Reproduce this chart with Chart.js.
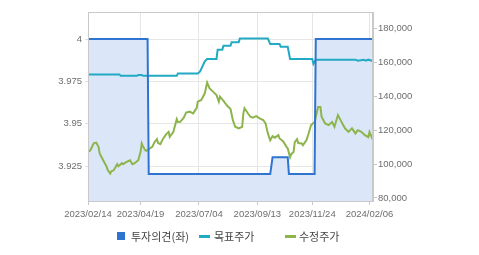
<!DOCTYPE html>
<html>
<head>
<meta charset="utf-8">
<script src="https://cdn.jsdelivr.net/npm/chart.js@4/dist/chart.umd.min.js"></script>
<style>
  html, body { margin: 0; padding: 0; background: #fff; }
  #wrap { position: relative; width: 479px; height: 255px; }
  #legend { position: absolute; left: 0; top: 0; width: 479px; height: 255px; pointer-events: none;
            font-family: "Noto Sans CJK KR", "Noto Sans", sans-serif; font-size: 11px; color: #444; }
  .lg { position: absolute; top: 228px; line-height: 16px; white-space: nowrap; }
  .sq { position: absolute; width: 8px; height: 8px; top: 4px; }
  .ln { position: absolute; width: 11px; height: 3px; top: 7px; }
</style>
</head>
<body>
<div id="wrap">
  <canvas id="c" width="479" height="255"></canvas>
  <div id="legend"></div>
</div>
<script>
// ---- data (trading-day index along the x axis) ----
const tickDays   = [0, 45, 95, 145, 192, 241];
const dateLabels = ['2023/02/14', '2023/04/19', '2023/07/04', '2023/09/13', '2023/11/24', '2024/02/06'];

const leftTicks  = [3.925, 3.95, 3.975, 4];
const rightTicks = [80000, 100000, 120000, 140000, 160000, 180000];

// 투자의견(좌)
const opinionDays   = [0, 51, 52, 156, 158, 171, 172, 194, 195, 244];
const opinionValues = [4, 4, 3.9204, 3.9204, 3.9303, 3.9303, 3.9204, 3.9204, 4, 4];

// 목표주가
const targetDays   = [0, 27, 28, 42, 43, 46, 47, 76, 77, 94, 96, 100, 102, 110, 111, 115, 116, 122, 123, 129, 130, 154, 156, 164, 165, 171, 173, 192, 193, 195, 229, 231, 236, 238, 240, 244];
const targetValues = [152700, 152700, 151900, 151900, 152400, 152400, 151900, 151900, 153300, 153300, 154500, 160400, 161800, 161800, 167300, 167300, 169600, 169600, 171700, 171700, 173800, 173800, 170600, 170600, 169000, 169000, 161800, 161800, 159000, 161400, 161400, 160800, 161400, 160800, 161400, 160600];

// 수정주가
const priceDays = [0, 2, 5, 7, 9, 10, 13, 16, 17, 19, 20, 22, 25, 26, 29, 30, 33, 36, 38, 40, 43, 45, 46, 47, 49, 50, 52, 55, 57, 59, 60, 62, 64, 67, 69, 70, 73, 76, 77, 79, 82, 84, 87, 90, 93, 94, 97, 100, 102, 104, 107, 110, 112, 113, 116, 119, 122, 124, 126, 129, 132, 133, 134, 137, 139, 141, 144, 147, 150, 152, 154, 156, 158, 160, 163, 164, 167, 170, 171, 173, 174, 176, 177, 179, 180, 183, 184, 187, 189, 191, 194, 197, 199, 200, 203, 206, 209, 211, 214, 217, 220, 223, 226, 229, 231, 234, 237, 240, 241, 244];
const priceValues = [107100, 108100, 112300, 112600, 110100, 106200, 102200, 98300, 96300, 94400, 95700, 96300, 99900, 98700, 100500, 99900, 101200, 102200, 99900, 100500, 102200, 107000, 112100, 110500, 108100, 107800, 108700, 110100, 112900, 114600, 112400, 111700, 114600, 117600, 118900, 116000, 118800, 126400, 124700, 124800, 127300, 130300, 130800, 129800, 132900, 136700, 137700, 141600, 147900, 144600, 142600, 140600, 136700, 139600, 137100, 134400, 132300, 125900, 121900, 121000, 121900, 129800, 132800, 129700, 127800, 127300, 128200, 126900, 125900, 123900, 118000, 114000, 116400, 115500, 117000, 115000, 113400, 110100, 109100, 104000, 105800, 107100, 112900, 114600, 112300, 112100, 111100, 114000, 118200, 122900, 124800, 133500, 133500, 127800, 123900, 122900, 124700, 121900, 128800, 124800, 121000, 118900, 121000, 118000, 119900, 118900, 117000, 115800, 118800, 114000];

const seriesNames = ['투자의견(좌)', '목표주가', '수정주가'];
const seriesColors = ['#2f74d0', '#22aac4', '#8db54c'];

const pairs = (xs, ys) => xs.map((x, i) => ({ x: x, y: ys[i] }));

const frame = {
  id: 'frame',
  afterDatasetsDraw(chart) {
    const a = chart.chartArea, ctx = chart.ctx;
    ctx.save();
    ctx.strokeStyle = '#c9c9c9';
    ctx.lineWidth = 1;
    ctx.strokeRect(Math.round(a.left) + 0.5, Math.round(a.top) + 0.5, Math.round(a.right - a.left) - 1, Math.round(a.bottom - a.top));
    ctx.restore();
  }
};

Chart.defaults.font.family = '"Liberation Sans", Arial, sans-serif';
Chart.defaults.font.size = 9.5;
Chart.defaults.color = '#6e6e6e';

new Chart(document.getElementById('c'), {
  type: 'line',
  data: {
    datasets: [
      { label: seriesNames[0], data: pairs(opinionDays, opinionValues), yAxisID: 'y',
        borderColor: seriesColors[0], backgroundColor: '#dbe7f8', borderWidth: 2,
        fill: 'start', pointRadius: 0, tension: 0, order: 0 },
      { label: seriesNames[1], data: pairs(targetDays, targetValues), yAxisID: 'y1',
        borderColor: seriesColors[1], borderWidth: 2, fill: false, pointRadius: 0, tension: 0, order: 1 },
      { label: seriesNames[2], data: pairs(priceDays, priceValues), yAxisID: 'y1',
        borderColor: seriesColors[2], borderWidth: 2, fill: false, pointRadius: 0, tension: 0, order: 2 }
    ]
  },
  options: {
    responsive: false,
    animation: false,
    events: [],
    layout: { padding: { left: 0, right: 0, top: 12, bottom: 34 } },
    plugins: { legend: { display: false }, tooltip: { enabled: false }, filler: { drawTime: 'beforeDatasetsDraw' } },
    scales: {
      x: {
        type: 'linear', min: 0, max: 244,
        afterBuildTicks: s => { s.ticks = tickDays.map(v => ({ value: v })); },
        afterFit: s => { s.height = 20; },
        ticks: { autoSkip: false, maxRotation: 0, padding: 4,
                 callback: v => dateLabels[tickDays.indexOf(v)] },
        grid: { color: '#e6e6e6', tickColor: '#c9c9c9', tickLength: 4 },
        border: { color: '#c9c9c9' }
      },
      y: {
        position: 'left', min: 3.9045, max: 4.016,
        afterBuildTicks: s => { s.ticks = leftTicks.map(v => ({ value: v })); },
        afterFit: s => { s.width = 88; },
        ticks: { padding: 3, callback: v => String(v) },
        grid: { color: '#e6e6e6', tickColor: '#dcdcdc', tickLength: 3 },
        border: { color: '#c9c9c9' }
      },
      y1: {
        position: 'right', min: 78230, max: 189450,
        afterBuildTicks: s => { s.ticks = rightTicks.map(v => ({ value: v })); },
        afterFit: s => { s.width = 106; },
        ticks: { padding: 1, callback: v => v.toLocaleString('en-US') },
        grid: { drawOnChartArea: false, tickColor: '#c9c9c9', tickLength: 4 },
        border: { color: '#c9c9c9' }
      }
    }
  },
  plugins: [frame]
});

// HTML legend
const lg = document.getElementById('legend');
const legendItems = [
  { mark: 'sq', markLeft: 117, textLeft: 131 },
  { mark: 'ln', markLeft: 199, textLeft: 214 },
  { mark: 'ln', markLeft: 285, textLeft: 299 }
];
legendItems.forEach((it, i) => {
  const m = document.createElement('div');
  m.className = it.mark;
  m.style.left = it.markLeft + 'px';
  m.style.top = (228 + (it.mark === 'sq' ? 4 : 7)) + 'px';
  m.style.background = seriesColors[i];
  lg.appendChild(m);
  const t = document.createElement('div');
  t.className = 'lg';
  t.style.left = it.textLeft + 'px';
  t.textContent = seriesNames[i];
  lg.appendChild(t);
});
</script>
</body>
</html>
